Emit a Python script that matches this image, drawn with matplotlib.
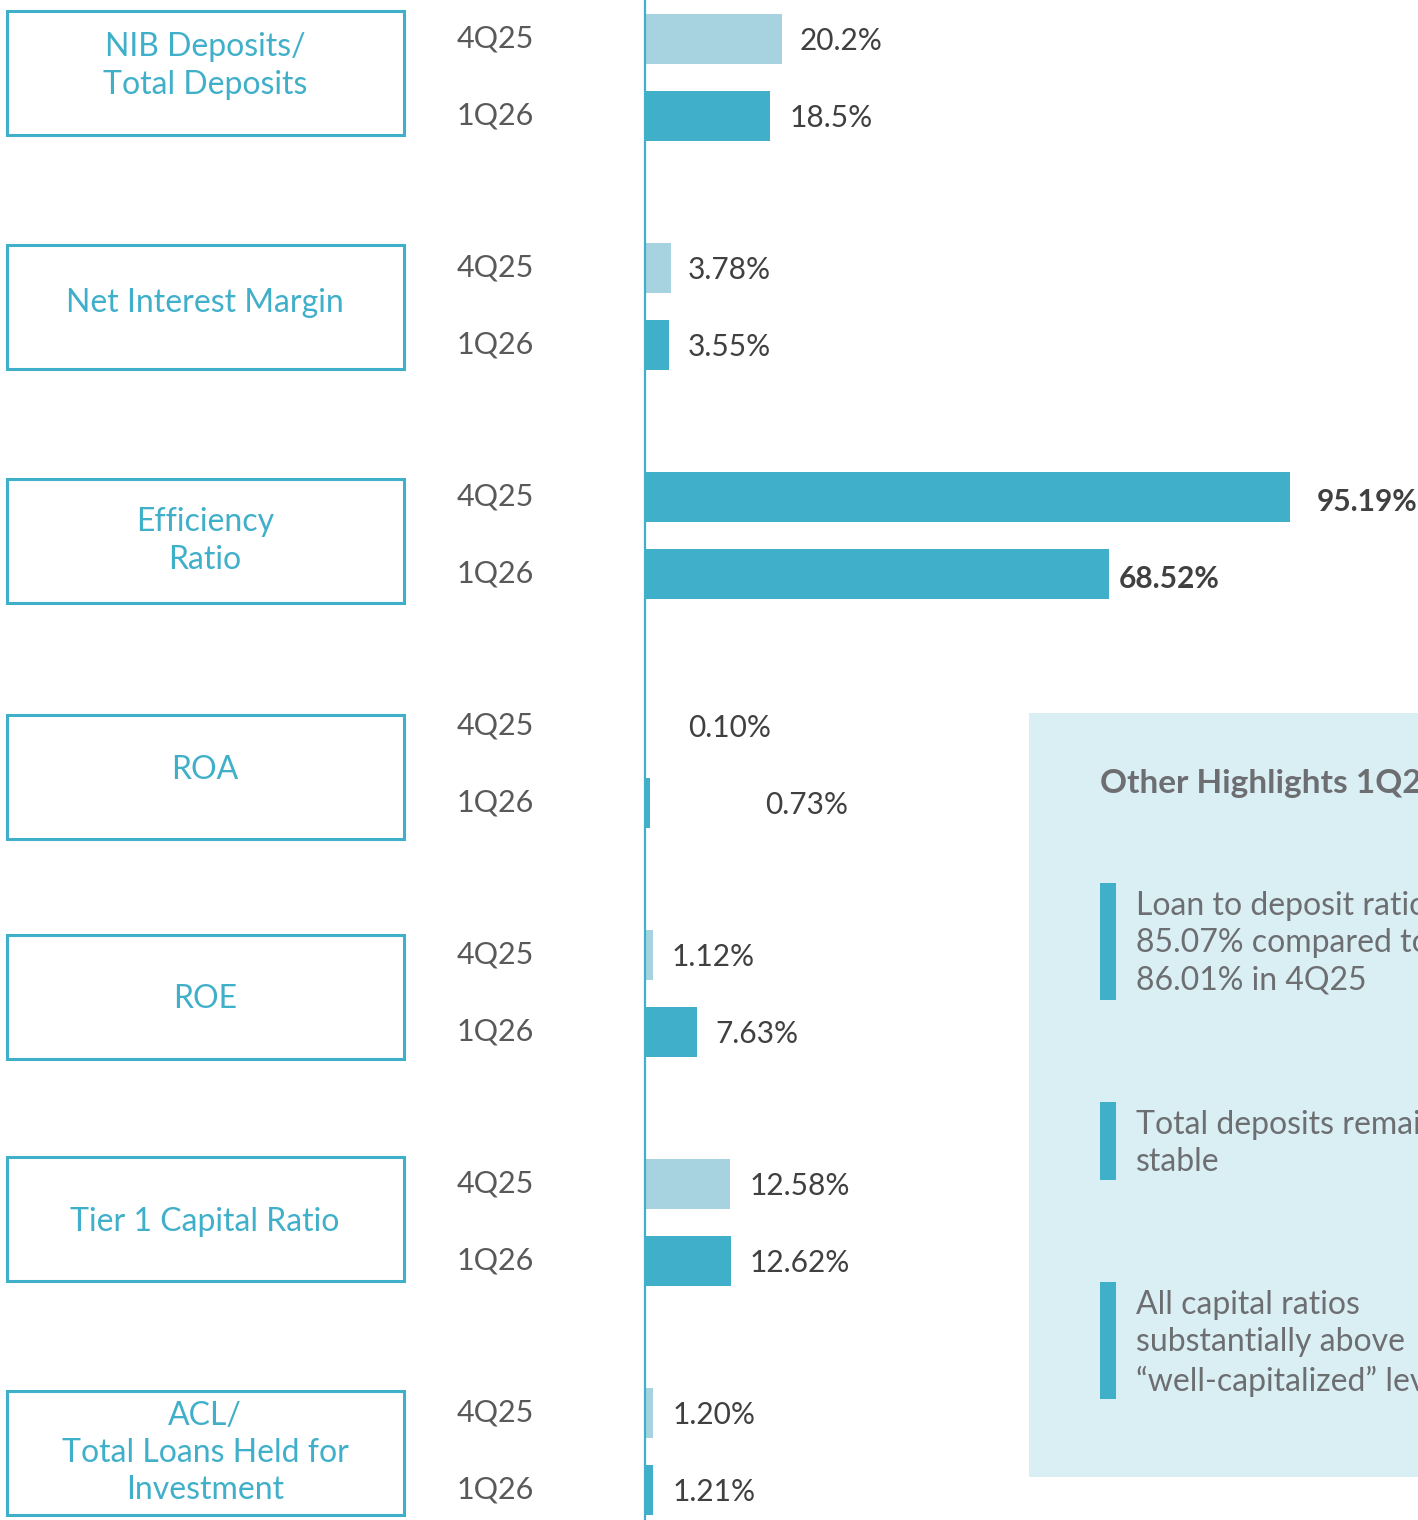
import matplotlib.pyplot as plt
from matplotlib.patches import Rectangle

plt.rcParams['font.family'] = ['Lato', 'DejaVu Sans']

# dane
metryki = ["NIB Deposits/\nTotal Deposits", "Net Interest Margin", "Efficiency\nRatio",
           "ROA", "ROE", "Tier 1 Capital Ratio", "ACL/\nTotal Loans Held for\nInvestment"]
okresy = ["4Q25", "1Q26"]
wartosci_4q25 = [20.2, 3.78, 95.19, 0.10, 1.12, 12.58, 1.20]
wartosci_1q26 = [18.5, 3.55, 68.52, 0.73, 7.63, 12.62, 1.21]
etykiety_4q25 = ["20.2%", "3.78%", "95.19%", "0.10%", "1.12%", "12.58%", "1.20%"]
etykiety_1q26 = ["18.5%", "3.55%", "68.52%", "0.73%", "7.63%", "12.62%", "1.21%"]
tytul_panelu = "Other Highlights 1Q26"
punkty = ["Loan to deposit ratio of\n85.07% compared to\n86.01% in 4Q25",
          "Total deposits remained\nstable",
          "All capital ratios\nsubstantially above\n\u201cwell-capitalized\u201d levels"]

# styl
CIEMNY = "#40AFC9"
JASNY = "#A6D3DF"
SZARY = "#595959"
SZARY_TXT = "#6D6E71"
kolory_4q25 = [JASNY, JASNY, CIEMNY, JASNY, JASNY, JASNY, JASNY]
pogrubione = [False, False, True, False, False, False, False]
# przesunięcia etykiet od końca słupka (px)
przes_4q25 = [18, 17, 27, 42, 19, 19, 19]
przes_1q26 = [19, 19, 9, 115, 19, 19, 19]
# środki ramek z nazwami i tekstów w ramkach (px od góry)
srodki_ramek = [73, 307, 541, 777, 997, 1219, 1453]
srodki_nazw = [66, 303, 541, 770, 999, 1222, 1453]

W, H = 1418, 1520
fig = plt.figure(figsize=(W / 100, H / 100), dpi=100)

tlo = fig.add_axes([0, 0, 1, 1])
tlo.set_xlim(0, W)
tlo.set_ylim(H, 0)
tlo.axis("off")

x0 = 645
px_na_proc = 6.776
ax = fig.add_axes([x0 / W, 0, (W - x0) / W, 1])
ax.set_xlim(0, (W - x0) / px_na_proc)
ax.set_ylim(H, 0)
ax.axis("off")
ax.patch.set_alpha(0)

krok = 229
start = 77
odstep = 38.5
wys = 50

for i, nazwa in enumerate(metryki):
    srodek = start + krok * i
    y4, y1 = srodek - odstep, srodek + odstep
    ax.barh(y4, wartosci_4q25[i], height=wys, color=kolory_4q25[i])
    ax.barh(y1, wartosci_1q26[i], height=wys, color=CIEMNY)
    waga = "bold" if pogrubione[i] else "normal"
    dy = -4 if pogrubione[i] else -2
    ax.annotate(etykiety_4q25[i], (wartosci_4q25[i], y4), xytext=(przes_4q25[i] * 0.72, dy),
                textcoords="offset points", va="center", ha="left", fontsize=21.5,
                color="#404040", fontweight=waga)
    ax.annotate(etykiety_1q26[i], (wartosci_1q26[i], y1), xytext=(przes_1q26[i] * 0.72, dy),
                textcoords="offset points", va="center", ha="left", fontsize=21.5,
                color="#404040", fontweight=waga)

    # okresy
    tlo.text(457, y4, okresy[0], fontsize=22, color=SZARY, va="center", ha="left")
    tlo.text(457, y1, okresy[1], fontsize=22, color=SZARY, va="center", ha="left")

    # ramka z nazwą
    sr = srodki_ramek[i]
    tlo.add_patch(Rectangle((7, sr - 62), 397, 124, fill=False, edgecolor=CIEMNY, lw=2.2))
    tlo.text(205, srodki_nazw[i], nazwa, fontsize=23, color=CIEMNY, ha="center", va="center",
             linespacing=1.3)

ax.axvline(0, color=CIEMNY, lw=1.6, clip_on=False)

# panel z innymi informacjami
tlo.add_patch(Rectangle((1029, 713), 420, 764, facecolor="#D9EFF4", edgecolor="none"))
tlo.text(1100, 784, tytul_panelu, fontsize=24, fontweight="bold", color=SZARY_TXT,
         ha="left", va="center")
pozycje_y = [883, 1102, 1282]
wysokosci = [117, 78, 117]
for tekst, yp, hp in zip(punkty, pozycje_y, wysokosci):
    tlo.add_patch(Rectangle((1100, yp), 16, hp, facecolor=CIEMNY, edgecolor="none"))
    tlo.text(1136, yp + 8, tekst, fontsize=23, color=SZARY_TXT, ha="left", va="top",
             linespacing=1.31)

fig.savefig("out.png", dpi=100)
